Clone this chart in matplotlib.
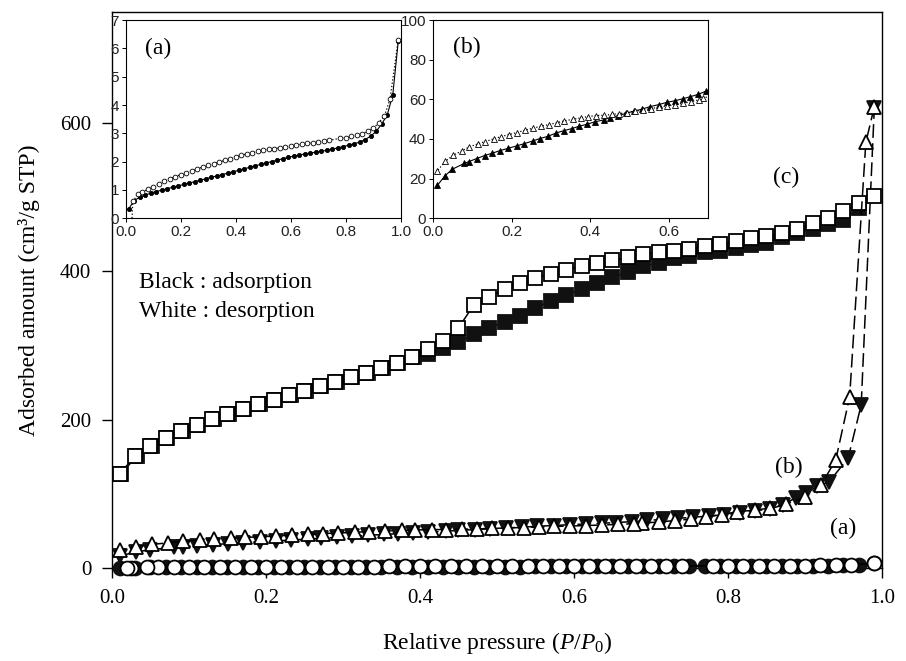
import matplotlib
matplotlib.use("Agg")
import matplotlib.pyplot as plt
from matplotlib.ticker import FormatStrFormatter

plt.rcParams["font.family"] = "Liberation Serif"
plt.rcParams["mathtext.fontset"] = "custom"
plt.rcParams["mathtext.rm"] = "Liberation Serif"
plt.rcParams["mathtext.it"] = "Liberation Serif:italic"

# ---------------------------------------------------------------------------
# data
# ---------------------------------------------------------------------------

# (a) circles
p_ads_a = [0.01, 0.03, 0.05, 0.07, 0.09, 0.11, 0.13, 0.15, 0.17, 0.19,
           0.21, 0.23, 0.25, 0.27, 0.29, 0.31, 0.33, 0.35, 0.37, 0.39,
           0.41, 0.43, 0.45, 0.47, 0.49, 0.51, 0.53, 0.55, 0.57, 0.59,
           0.61, 0.63, 0.65, 0.67, 0.69, 0.71, 0.73, 0.75, 0.77, 0.79,
           0.81, 0.83, 0.85, 0.87, 0.89, 0.91, 0.93, 0.95, 0.97, 0.99]
v_ads_a = [0.33, 0.62, 0.74, 0.82, 0.88, 0.94, 0.99, 1.04, 1.09, 1.14,
           1.19, 1.24, 1.29, 1.34, 1.39, 1.44, 1.49, 1.54, 1.59, 1.64,
           1.69, 1.74, 1.80, 1.85, 1.90, 1.95, 2.00, 2.05, 2.10, 2.15,
           2.19, 2.23, 2.27, 2.30, 2.33, 2.36, 2.40, 2.44, 2.48, 2.53,
           2.58, 2.63, 2.69, 2.78, 2.90, 3.07, 3.33, 3.65, 4.35, 6.25]

p_des_a = [0.99, 0.96, 0.94, 0.92, 0.90, 0.88, 0.86, 0.84, 0.82, 0.80,
           0.78, 0.74, 0.72, 0.70, 0.68, 0.66, 0.64, 0.62, 0.60, 0.58,
           0.56, 0.54, 0.52, 0.50, 0.48, 0.46, 0.44, 0.42, 0.40, 0.38,
           0.36, 0.34, 0.32, 0.30, 0.28, 0.26, 0.24, 0.22, 0.20, 0.18,
           0.16, 0.14, 0.12, 0.10, 0.08, 0.06, 0.045, 0.025, 0.02]
v_des_a = [6.30, 4.20, 3.62, 3.38, 3.18, 3.08, 2.98, 2.93, 2.89, 2.85,
           2.82, 2.76, 2.73, 2.70, 2.67, 2.64, 2.61, 2.58, 2.55, 2.52,
           2.49, 2.46, 2.43, 2.40, 2.36, 2.31, 2.27, 2.22, 2.17, 2.10,
           2.04, 1.99, 1.93, 1.87, 1.81, 1.75, 1.68, 1.61, 1.54, 1.47,
           1.40, 1.31, 1.21, 1.10, 1.02, 0.93, 0.84, 0.60, -0.5]

# (b) triangles
p_ads_b = [0.011, 0.031, 0.049, 0.080, 0.092, 0.111, 0.131, 0.151, 0.170, 0.192,
           0.213, 0.232, 0.254, 0.272, 0.292, 0.312, 0.333, 0.353, 0.372, 0.391,
           0.411, 0.434, 0.450, 0.472, 0.491, 0.512, 0.533, 0.552, 0.574, 0.595,
           0.616, 0.636, 0.654, 0.675, 0.695, 0.715, 0.735, 0.755, 0.775, 0.795,
           0.815, 0.835, 0.855, 0.872, 0.888, 0.901, 0.916, 0.931, 0.956, 0.973,
           0.990]
v_ads_b = [16.6, 21.5, 24.7, 27.7, 28.6, 30.1, 31.6, 32.8, 34.1, 35.3,
           36.5, 37.6, 39.0, 40.2, 41.3, 42.9, 44.2, 45.2, 46.4, 47.4,
           48.6, 49.6, 50.8, 51.8, 52.9, 54.1, 55.1, 56.3, 57.3, 58.5,
           59.3, 60.3, 61.3, 62.5, 64.2, 65.5, 67.0, 68.5, 70.0, 72.0,
           74.5, 77.0, 80.0, 85.0, 95.0, 101.0, 110.0, 116.0, 148.0, 220.0,
           620.0]

p_des_b = [0.990, 0.979, 0.958, 0.940, 0.921, 0.900, 0.875, 0.855, 0.835, 0.812,
           0.792, 0.772, 0.752, 0.731, 0.710, 0.688, 0.678, 0.657, 0.636, 0.616,
           0.595, 0.574, 0.554, 0.535, 0.514, 0.493, 0.474, 0.455, 0.434, 0.415,
           0.394, 0.376, 0.355, 0.334, 0.315, 0.294, 0.274, 0.254, 0.234, 0.213,
           0.193, 0.173, 0.154, 0.133, 0.114, 0.092, 0.073, 0.052, 0.031, 0.011]
v_des_b = [622.0, 574.0, 231.0, 146.0, 112.0, 96.0, 86.0, 81.0, 78.0, 76.0,
           72.0, 69.0, 66.0, 64.0, 62.0, 60.6, 59.8, 58.8, 58.0, 57.3,
           56.6, 56.0, 55.3, 54.6, 54.1, 53.3, 52.8, 52.4, 51.9, 51.8,
           51.3, 50.6, 49.9, 49.1, 48.2, 47.2, 46.4, 45.4, 44.4, 43.2,
           42.2, 41.2, 40.0, 38.7, 37.5, 36.0, 33.9, 31.9, 28.7, 23.9]

# (c) squares
p_ads_c = [0.012, 0.032, 0.052, 0.072, 0.092, 0.112, 0.132, 0.152, 0.172, 0.192,
           0.212, 0.232, 0.252, 0.272, 0.292, 0.312, 0.332, 0.352, 0.372, 0.392,
           0.41, 0.43, 0.45, 0.47, 0.49, 0.51, 0.53, 0.55, 0.57, 0.59,
           0.61, 0.63, 0.65, 0.67, 0.69, 0.71, 0.73, 0.75, 0.77, 0.79,
           0.81, 0.83, 0.85, 0.87, 0.89, 0.91, 0.93, 0.95, 0.97]
v_ads_c = [127, 151, 165, 176, 185, 193, 201, 208, 215, 221,
           227, 233, 239, 245, 251, 257, 263, 270, 277, 284,
           289, 297, 305, 315, 324, 332, 340, 351, 360, 368,
           377, 384, 392, 399, 407, 412, 418, 421, 426, 428,
           432, 436, 439, 446, 452, 457, 464, 470, 486]

p_des_c = [0.99, 0.97, 0.95, 0.93, 0.91, 0.89, 0.87, 0.85, 0.83, 0.81,
           0.79, 0.77, 0.75, 0.73, 0.71, 0.69, 0.67, 0.65, 0.63, 0.61,
           0.59, 0.57, 0.55, 0.53, 0.51, 0.49, 0.47, 0.45, 0.43, 0.41,
           0.39, 0.37, 0.35, 0.33, 0.31, 0.29, 0.27, 0.25, 0.23, 0.21,
           0.19, 0.17, 0.15, 0.13, 0.11, 0.09, 0.07, 0.05, 0.03, 0.01]
v_des_c = [502, 492, 481, 472, 465, 457, 452, 448, 445, 441,
           437, 434, 431, 428, 426, 423, 419, 415, 411, 407,
           402, 397, 391, 384, 376, 366, 355, 324, 306, 296,
           285, 277, 270, 263, 257, 251, 245, 239, 233, 227,
           221, 215, 208, 201, 193, 185, 176, 165, 151, 127]

# ---------------------------------------------------------------------------
# main plot
# ---------------------------------------------------------------------------
fig = plt.figure(figsize=(9.06, 6.61), dpi=100)
ax = fig.add_axes([0.1236, 0.1407, 0.8499, 0.8411])

LW = 1.1
MEW = 1.3

# (c)
ax.plot(p_ads_c, v_ads_c, "-", color="black", lw=LW, marker="s", ms=10.5,
        mfc="#111111", mec="#111111", mew=MEW, clip_on=False, zorder=3)
ax.plot(p_des_c, v_des_c, "-", color="black", lw=LW, marker="s", ms=10.5,
        mfc="white", mec="black", mew=MEW, clip_on=False, zorder=4)

# (b)
l1, = ax.plot(p_ads_b, v_ads_b, color="black", lw=LW, marker="v", ms=10.5,
              mfc="#111111", mec="#111111", mew=MEW, clip_on=False, zorder=3)
l2, = ax.plot(p_des_b, v_des_b, color="black", lw=LW, marker="^", ms=10.5,
              mfc="white", mec="black", mew=MEW, clip_on=False, zorder=4)
l1.set_dashes((9, 3.5))
l2.set_dashes((9, 3.5))

# (a)
ax.plot(p_ads_a, v_ads_a, "-", color="black", lw=LW, marker="o", ms=10,
        mfc="#111111", mec="#111111", mew=MEW, clip_on=False, zorder=3)
ax.plot(p_des_a, v_des_a, "-", color="black", lw=LW, marker="o", ms=10,
        mfc="white", mec="black", mew=MEW, clip_on=False, zorder=4)

ax.set_xlim(0, 1.0)
ax.set_ylim(0, 750)
ax.set_xticks([0.0, 0.2, 0.4, 0.6, 0.8, 1.0])
ax.set_yticks([0, 200, 400, 600])
ax.xaxis.set_major_formatter(FormatStrFormatter("%.1f"))
ax.tick_params(direction="out", length=7, width=1.0, labelsize=15,
               top=False, right=False, pad=8)
for s in ax.spines.values():
    s.set_linewidth(1.0)

ax.set_xlabel(r"Relative pressure ($P/P_{0}$)", fontsize=17, labelpad=16)
ax.set_ylabel("Adsorbed amount (cm³/g STP)", fontsize=17, labelpad=14)

ax.text(0.035, 385, "Black : adsorption", fontsize=17, va="center", ha="left")
ax.text(0.035, 346, "White : desorption", fontsize=17, va="center", ha="left")
ax.text(0.875, 527, "(c)", fontsize=17, va="center", ha="center")
ax.text(0.879, 136, "(b)", fontsize=17, va="center", ha="center")
ax.text(0.949, 54, "(a)", fontsize=17, va="center", ha="center")

# ---------------------------------------------------------------------------
# insets
# ---------------------------------------------------------------------------
sans = "Liberation Sans"

axa = fig.add_axes([0.139, 0.670, 0.3036, 0.2995], zorder=5)
axa.plot(p_ads_a, v_ads_a, "-", color="black", lw=0.8, marker="o", ms=3,
         mfc="black", mec="black", mew=0.6)
axa.plot(p_des_a, v_des_a, ":", color="black", lw=0.9, marker="o", ms=3.4,
         mfc="white", mec="black", mew=0.6)
axa.set_xlim(0, 1.0)
axa.set_ylim(0, 7)
axa.set_xticks([0.0, 0.2, 0.4, 0.6, 0.8, 1.0])
axa.set_yticks(range(0, 8))
axa.xaxis.set_major_formatter(FormatStrFormatter("%.1f"))
axa.text(0.116, 6.0, "(a)", fontsize=17, va="center", ha="center")

axb = fig.add_axes([0.478, 0.670, 0.3035, 0.2995], zorder=5)
axb.plot(p_ads_b, v_ads_b, "-", color="black", lw=0.8, marker="^", ms=4.2,
         mfc="black", mec="black", mew=0.6)
axb.plot(p_des_b, v_des_b, ":", color="black", lw=0.9, marker="^", ms=4.2,
         mfc="white", mec="black", mew=0.6)
axb.set_xlim(0, 0.7)
axb.set_ylim(0, 100)
axb.set_xticks([0.0, 0.2, 0.4, 0.6])
axb.set_yticks([0, 20, 40, 60, 80, 100])
axb.xaxis.set_major_formatter(FormatStrFormatter("%.1f"))
axb.text(0.087, 86, "(b)", fontsize=17, va="center", ha="center")

for a in (axa, axb):
    a.tick_params(direction="out", length=3, width=0.7, labelsize=11,
                  top=False, right=False, pad=2)
    for lab in a.get_xticklabels() + a.get_yticklabels():
        lab.set_family(sans)
        lab.set_color("#222222")
    for s in a.spines.values():
        s.set_linewidth(0.8)

fig.savefig("out.png", dpi=100)
